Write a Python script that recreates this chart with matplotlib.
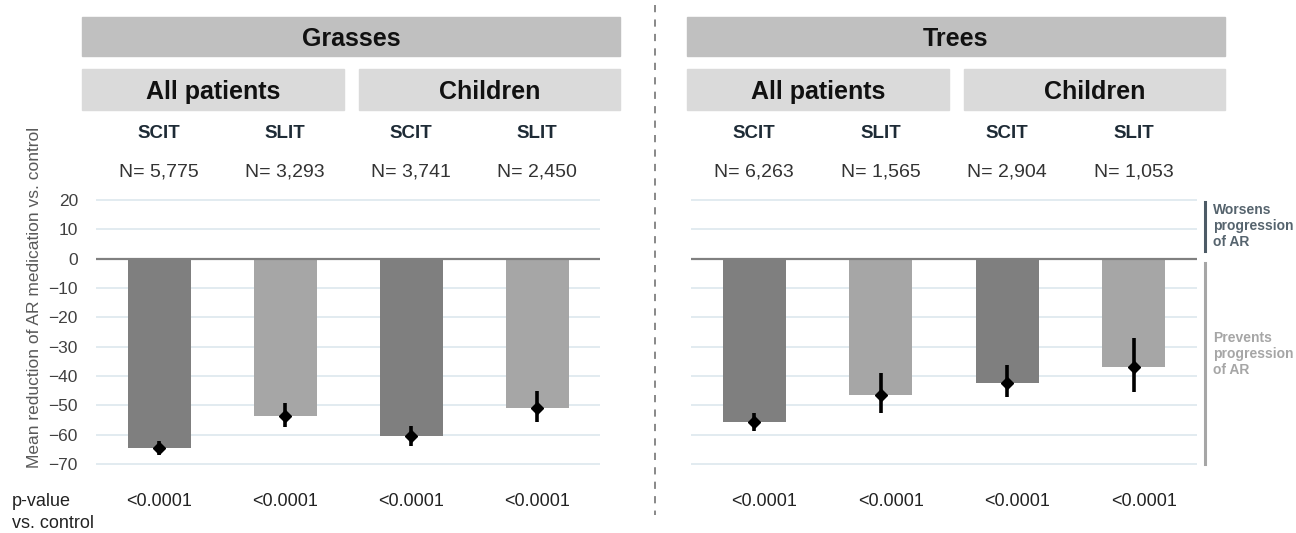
import numpy as np
import matplotlib
matplotlib.use("Agg")
import matplotlib.pyplot as plt
from matplotlib.patches import Rectangle
from matplotlib.lines import Line2D

plt.rcParams['font.family'] = ['Liberation Sans', 'DejaVu Sans']

# Data: mean reduction of AR medication vs. control, with 95% CI
therapies = ["SCIT", "SLIT", "SCIT", "SLIT"]
subgroups = ["All patients", "Children"]
grassN = ["5,775", "3,293", "3,741", "2,450"]
grassMean = [-64.5, -53.6, -60.5, -50.8]
grassLow = [-67.0, -57.5, -63.9, -55.8]
grassHigh = [-62.2, -49.3, -57.1, -45.2]
treeN = ["6,263", "1,565", "2,904", "1,053"]
treeMean = [-55.8, -46.4, -42.2, -36.8]
treeLow = [-58.8, -52.7, -47.3, -45.6]
treeHigh = [-52.7, -39.1, -36.4, -26.9]
pValues = ["<0.0001", "<0.0001", "<0.0001", "<0.0001"]
yTicks = [20, 10, 0, -10, -20, -30, -40, -50, -60, -70]

barColors = ["#7f7f7f", "#a6a6a6", "#7f7f7f", "#a6a6a6"]

W, H = 1296, 533
fig = plt.figure(figsize=(W / 100, H / 100), dpi=100)


def fx(px):
    return px / W


def fy(py):
    return 1 - py / H


def box(x0, x1, y0, y1, color, label):
    fig.patches.append(Rectangle((fx(x0), fy(y1)), fx(x1) - fx(x0), fy(y0) - fy(y1),
                                 transform=fig.transFigure, color=color, zorder=0))
    fig.text(fx((x0 + x1) / 2), fy((y0 + y1) / 2), label, ha="center", va="center_baseline",
             fontsize=18, fontweight="bold", color="#111111")


def drawPanel(left, right, title, means, lows, highs, nValues, showY):
    top, bottom = 194, 470
    ax = fig.add_axes([fx(left), fy(bottom), fx(right) - fx(left), fy(top) - fy(bottom)])
    x = np.arange(len(means))
    ax.set_xlim(-0.5, 3.5)
    ax.set_ylim(-72, 22)
    for t in yTicks:
        if t != 0:
            ax.axhline(t, color="#dde7ee", linewidth=1.2, zorder=0)
    ax.bar(x, means, width=0.5, color=barColors, zorder=2)
    ax.axhline(0, color="#808080", linewidth=1.6, zorder=3)
    means = np.array(means)
    yerr = [means - np.array(lows), np.array(highs) - means]
    ax.errorbar(x, means, yerr=yerr, fmt="D", color="black", markersize=6.5,
                elinewidth=2.6, capsize=0, zorder=4)
    for side in ax.spines.values():
        side.set_visible(False)
    ax.set_xticks([])
    ax.set_yticks(yTicks)
    ax.tick_params(axis="y", length=0, pad=13, labelsize=12.5, labelcolor="#404040")
    if not showY:
        ax.set_yticklabels([])

    # header boxes above the bars
    centers = ax.transData.transform(np.column_stack([x, np.zeros(4)]))[:, 0]
    x0 = left - 14 if showY else left - 4
    x1 = right + 20 if showY else right + 28
    mid = (x0 + x1) / 2
    box(x0, x1, 17, 56, "#c0c0c0", title)
    box(x0, mid - 7.5, 69, 110, "#dadada", subgroups[0])
    box(mid + 7.5, x1, 69, 110, "#dadada", subgroups[1])

    for cx, therapy, n, p in zip(centers, therapies, nValues, pValues):
        fig.text(cx / W, fy(134), therapy, ha="center", va="center", fontsize=13.5,
                 fontweight="bold", color="#1e2b36")
        fig.text(cx / W, fy(172), "N= " + n, ha="center", va="center", fontsize=14,
                 color="#333333")
        fig.text(cx / W + (10 / W if not showY else 0), fy(501), p, ha="center",
                 va="center", fontsize=13, color="#222222")
    return ax


drawPanel(96, 600, "Grasses", grassMean, grassLow, grassHigh, grassN, True)
drawPanel(691, 1197, "Trees", treeMean, treeLow, treeHigh, treeN, False)

fig.text(fx(35), fy(297), "Mean reduction of AR medication vs. control", rotation=90,
         ha="center", va="center", fontsize=12.5, color="#595959")

# p-value row label
fig.text(fx(12), fy(501), "p-value", ha="left", va="center", fontsize=13, color="#222222")
fig.text(fx(12), fy(523), "vs. control", ha="left", va="center", fontsize=13, color="#222222")

# dashed separator between the two panels
fig.lines.append(Line2D([fx(655), fx(655)], [fy(5), fy(515)], transform=fig.transFigure,
                        color="#7f7f7f", linewidth=1.3, linestyle=(0, (4, 4))))

# direction brackets on the right
fig.lines.append(Line2D([fx(1205), fx(1205)], [fy(202), fy(251)], transform=fig.transFigure,
                        color="#4d5b66", linewidth=2.2))
fig.lines.append(Line2D([fx(1205), fx(1205)], [fy(263), fy(464)], transform=fig.transFigure,
                        color="#a6a6a6", linewidth=2.2))
fig.text(fx(1213), fy(226), "Worsens\nprogression\nof AR", ha="left", va="center",
         fontsize=10, fontweight="bold", color="#56646e", linespacing=1.2)
fig.text(fx(1213), fy(354), "Prevents\nprogression\nof AR", ha="left", va="center",
         fontsize=10, fontweight="bold", color="#a6a6a6", linespacing=1.2)

fig.savefig("out.png", dpi=100, facecolor="white")
